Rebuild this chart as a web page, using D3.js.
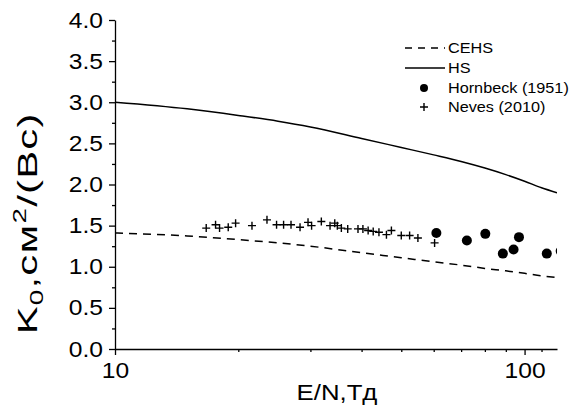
<!DOCTYPE html>
<html>
<head>
<meta charset="utf-8">
<script src="https://cdn.jsdelivr.net/npm/d3@7"></script>
<style>
  html, body { margin: 0; padding: 0; background: #fff; }
  svg { display: block; font-family: "Liberation Sans", Arial, sans-serif; }
</style>
</head>
<body>
<svg id="chart" width="577" height="408"></svg>
<script>
// ---- data ----
const xTickValues = [10, 100];
const xTickLabels = ["10", "100"];
const xMinorTicks = [20, 30, 40, 50, 60, 70, 80, 90, 110];
const yTickValues = [0, 0.5, 1.0, 1.5, 2.0, 2.5, 3.0, 3.5, 4.0];
const yTickLabels = ["0.0", "0.5", "1.0", "1.5", "2.0", "2.5", "3.0", "3.5", "4.0"];
const yMinorTicks = [0.25, 0.75, 1.25, 1.75, 2.25, 2.75, 3.25, 3.75];

const modelX = [10, 15, 20, 25, 30, 40, 50, 60, 70, 80, 90, 100, 110, 120];
const hsY    = [3.0, 2.92, 2.84, 2.77, 2.70, 2.56, 2.45, 2.36, 2.28, 2.20, 2.12, 2.04, 1.96, 1.90];
const cehsY  = [1.41, 1.375, 1.33, 1.29, 1.25, 1.17, 1.11, 1.06, 1.02, 0.98, 0.95, 0.92, 0.89, 0.87];

const hornbeckX = [60.9, 72.3, 80.2, 88.5, 94.0, 96.9, 113.3, 122.5];
const hornbeckY = [1.41, 1.32, 1.40, 1.16, 1.21, 1.36, 1.16, 1.19];

const nevesX = [16.7, 17.6, 18.0, 18.9, 19.7, 21.6, 23.5, 24.8, 25.8, 26.9, 28.3, 29.6, 30.2, 31.9, 33.5,
                34.4, 34.9, 35.7, 37.0, 39.2, 40.3, 41.5, 42.7, 44.1, 46.0, 47.3, 50.0, 52.4, 54.9, 60.3];
const nevesY = [1.47, 1.51, 1.47, 1.48, 1.53, 1.50, 1.57, 1.51, 1.51, 1.51, 1.48, 1.54, 1.50, 1.55, 1.50,
                1.53, 1.50, 1.47, 1.46, 1.46, 1.46, 1.44, 1.43, 1.42, 1.39, 1.44, 1.38, 1.38, 1.35, 1.29];

const legendLabels = ["CEHS", "HS", "Hornbeck (1951)", "Neves (2010)"];
const xTitle = "E/N,Тд";

// ---- layout ----
const mLeft = 115, mRight = 557, mTop = 20, mBottom = 349;
const SX = 1.12; // horizontal glyph stretch of the reference

const svg = d3.select("#chart");
const x = d3.scaleLog().domain([10, 120]).range([mLeft, mRight]);
const y = d3.scaleLinear().domain([0, 4]).range([mBottom, mTop]);

function stretch(sel, s) {
  sel.each(function () {
    const t = d3.select(this);
    const ax = +t.attr("x") || 0;
    const ay = +t.attr("y") || 0;
    t.attr("transform", `translate(${ax},${ay}) scale(${s},1) translate(${-ax},${-ay})`);
  });
}

svg.append("clipPath").attr("id", "clip")
  .append("rect").attr("x", mLeft).attr("y", mTop - 5).attr("width", mRight - mLeft).attr("height", mBottom - mTop + 5);

// axes
const xAxis = svg.append("g").attr("transform", `translate(0,${mBottom})`)
  .call(d3.axisBottom(x).tickValues(xTickValues).tickFormat((d, i) => xTickLabels[i])
        .tickSize(6).tickPadding(7).tickSizeOuter(0));
svg.append("g").attr("transform", `translate(0,${mBottom})`)
  .call(d3.axisBottom(x).tickValues(xMinorTicks).tickFormat("").tickSize(3).tickSizeOuter(0))
  .select(".domain").remove();

const yAxis = svg.append("g").attr("transform", `translate(${mLeft},0)`)
  .call(d3.axisLeft(y).tickValues(yTickValues).tickFormat((d, i) => yTickLabels[i])
        .tickSize(6).tickPadding(6).tickSizeOuter(0));
svg.append("g").attr("transform", `translate(${mLeft},0)`)
  .call(d3.axisLeft(y).tickValues(yMinorTicks).tickFormat("").tickSize(3).tickSizeOuter(0))
  .select(".domain").remove();

svg.selectAll(".domain, .tick line").attr("stroke", "#000").attr("stroke-width", 1.3);
[xAxis, yAxis].forEach(a => a.selectAll("text")
  .attr("font-family", "'Liberation Sans', Arial, sans-serif")
  .attr("font-size", 22).attr("fill", "#000"));
stretch(xAxis.selectAll("text"), SX);
stretch(yAxis.selectAll("text"), SX);

// titles
const xt = svg.append("text").attr("x", (mLeft + mRight) / 2 + 1).attr("y", 400)
  .attr("text-anchor", "middle").attr("font-size", 23).attr("fill", "#000").text(xTitle);
stretch(xt, SX);

const yg = svg.append("g").attr("transform", "translate(37,224) rotate(-90)");
const yt = yg.append("text").attr("text-anchor", "middle").attr("font-size", 27).attr("fill", "#000");
yt.append("tspan").text("K");
yt.append("tspan").attr("font-size", 18).attr("dy", 6).text("0");
yt.append("tspan").attr("dy", -6).text(",см");
yt.append("tspan").attr("font-size", 18).attr("dy", -11).text("2");
yt.append("tspan").attr("dy", 11).text("/(Вс)");
const YS = 1.55, targetLen = 222;
const len0 = yt.node().getComputedTextLength();
const ls = Math.max(0, (targetLen / YS - len0) / 11);
yt.attr("letter-spacing", ls);
yt.attr("transform", `translate(${ls / 2 * YS},0) scale(${YS},1)`);

// series
const plot = svg.append("g").attr("clip-path", "url(#clip)");
const line = d3.line().x(d => x(d[0])).y(d => y(d[1])).curve(d3.curveMonotoneX);

plot.append("path").datum(modelX.map((v, i) => [v, hsY[i]]))
  .attr("d", line).attr("fill", "none").attr("stroke", "#000").attr("stroke-width", 1.5);
plot.append("path").datum(modelX.map((v, i) => [v, cehsY[i]]))
  .attr("d", line).attr("fill", "none").attr("stroke", "#000").attr("stroke-width", 1.5)
  .attr("stroke-dasharray", "8,6");

function plus(g, cx, cy, h) {
  g.append("path").attr("d", `M${cx - h},${cy}H${cx + h}M${cx},${cy - h}V${cy + h}`)
    .attr("stroke", "#000").attr("stroke-width", 1.4).attr("fill", "none");
}
nevesX.forEach((v, i) => plus(plot, x(v), y(nevesY[i]), 4));
plot.selectAll("circle.hb").data(hornbeckX.map((v, i) => [v, hornbeckY[i]])).enter()
  .append("circle").attr("class", "hb")
  .attr("cx", d => x(d[0])).attr("cy", d => y(d[1])).attr("r", 5).attr("fill", "#000");

// legend
const lg = svg.append("g");
const rowsY = [48, 68, 88, 107];
const lx0 = 405, lx1 = 445, ltx = 448;
lg.append("line").attr("x1", lx0).attr("x2", lx1).attr("y1", rowsY[0]).attr("y2", rowsY[0])
  .attr("stroke", "#000").attr("stroke-width", 1.5).attr("stroke-dasharray", "7,6");
lg.append("line").attr("x1", lx0).attr("x2", lx1).attr("y1", rowsY[1]).attr("y2", rowsY[1])
  .attr("stroke", "#000").attr("stroke-width", 1.5);
lg.append("circle").attr("cx", 424).attr("cy", rowsY[2]).attr("r", 4).attr("fill", "#000");
plus(lg, 424, rowsY[3], 4);
const lt = lg.selectAll("text.leg").data(legendLabels).enter().append("text").attr("class", "leg")
  .attr("x", ltx).attr("y", (d, i) => rowsY[i]).attr("dy", "0.36em")
  .attr("font-size", 14.5).attr("fill", "#000").text(d => d);
stretch(lt, SX);
</script>
</body>
</html>
